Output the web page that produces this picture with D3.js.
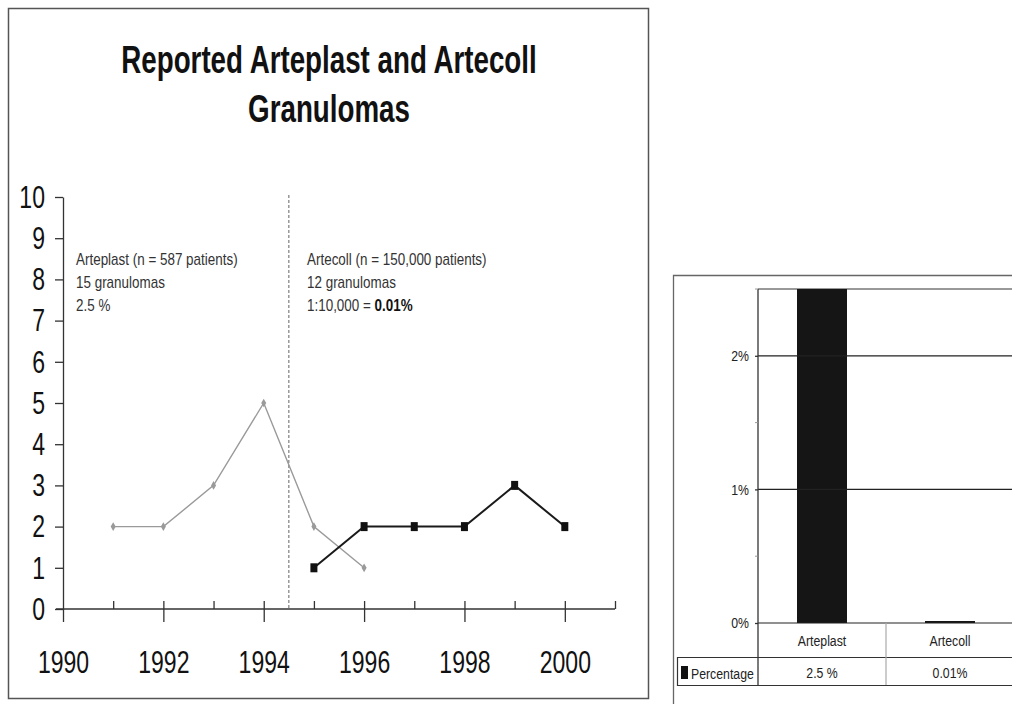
<!DOCTYPE html>
<html><head><meta charset="utf-8">
<script src="https://cdn.jsdelivr.net/npm/d3@7"></script>
<style>
html,body{margin:0;padding:0;background:#fff;}
svg{display:block;}
</style></head>
<body>
<svg id="chart" width="1012" height="704"></svg>
<script>
// ---- data ----
const titleLines = ["Reported Arteplast and Artecoll", "Granulomas"];
const yearTicks = [1990, 1992, 1994, 1996, 1998, 2000];
const minorYears = [1991, 1992, 1993, 1994, 1995, 1996, 1997, 1998, 1999, 2000, 2001];
const countTicks = [0,1,2,3,4,5,6,7,8,9,10];
const arteplastYears = [1991, 1992, 1993, 1994, 1995, 1996];
const arteplastCounts = [2, 2, 3, 5, 2, 1];
const artecollYears = [1995, 1996, 1997, 1998, 1999, 2000];
const artecollCounts = [1, 2, 2, 2, 3, 2];
const switchYear = 1994.5;
const arteplastNotes = ["Arteplast (n = 587 patients)", "15 granulomas", "2.5 %"];
const artecollNotes = ["Artecoll (n = 150,000 patients)", "12 granulomas", "1:10,000 = "];
const artecollBold = "0.01%";
const barCategories = ["Arteplast", "Artecoll"];
const barValues = [2.5, 0.01];
const barValueLabels = ["2.5 %", "0.01%"];
const pctTicks = [0, 1, 2];
const pctMinor = [0.5, 1.5, 2.5];
const seriesName = "Percentage";

const svg = d3.select("#chart");
const FONT = '"Liberation Sans Narrow","Arial Narrow","Liberation Sans",Arial,sans-serif';

// horizontally condense text (narrow typeface look)
function condense(sel, k) {
  sel.each(function () {
    const t = d3.select(this);
    const tx = +t.attr("x") || 0, ty = +t.attr("y") || 0;
    t.attr("x", 0).attr("y", 0).attr("transform", `translate(${tx},${ty}) scale(${k},1)`);
  });
}

// ---------- Left panel ----------
svg.append("rect").attr("x", 8.5).attr("y", 8.5).attr("width", 640).attr("height", 690)
  .attr("fill", "none").attr("stroke", "#555").attr("stroke-width", 1.5);

const title = svg.append("g").selectAll("text").data(titleLines).join("text")
  .attr("x", 329).attr("y", (d, i) => 73 + i * 49)
  .attr("text-anchor", "middle").attr("font-family", FONT)
  .attr("font-weight", "bold").attr("font-size", 38).attr("fill", "#111")
  .text(d => d);
condense(title, 0.73);

const x = d3.scaleLinear().domain([1990, 2001]).range([63, 615]);
const y = d3.scaleLinear().domain([0, 10]).range([609, 197]);

// y axis
const gy = svg.append("g").attr("transform", "translate(63,0)")
  .call(d3.axisLeft(y).tickValues(countTicks).tickSize(8).tickSizeOuter(0).tickPadding(10).tickFormat(d3.format("d")));
gy.selectAll("path,line").attr("stroke", "#333").attr("stroke-width", 1.3);
gy.selectAll("text").attr("font-family", FONT).attr("font-size", 32).attr("fill", "#111");
condense(gy.selectAll("text"), 0.72);

// x axis: minor ticks upward
const gxm = svg.append("g").attr("transform", "translate(0,609)")
  .call(d3.axisTop(x).tickValues(minorYears).tickSize(8).tickSizeOuter(0).tickFormat(""));
gxm.select(".domain").attr("d", `M${x(1990) - 7},0H${x(2001)}`);
gxm.selectAll("path,line").attr("stroke", "#333").attr("stroke-width", 1.3);

// x axis: major ticks downward with labels
const gx = svg.append("g").attr("transform", "translate(0,609)")
  .call(d3.axisBottom(x).tickValues(yearTicks).tickSize(13).tickPadding(28).tickFormat(d3.format("d")));
gx.select(".domain").remove();
gx.selectAll("line").attr("stroke", "#333").attr("stroke-width", 1.3);
gx.selectAll("text").attr("font-family", FONT).attr("font-size", 32).attr("fill", "#111");
condense(gx.selectAll("text"), 0.72);

// dashed divider
svg.append("line").attr("x1", x(switchYear)).attr("x2", x(switchYear))
  .attr("y1", y(10) - 2).attr("y2", y(0))
  .attr("stroke", "#888").attr("stroke-width", 1.3).attr("stroke-dasharray", "3,2");

// annotations
const ap = svg.append("g").selectAll("text").data(arteplastNotes).join("text")
  .attr("x", 76).attr("y", (d, i) => 265 + i * 23)
  .attr("font-family", FONT).attr("font-size", 16).attr("fill", "#333").text(d => d);
condense(ap, 0.84);
const an = svg.append("g").selectAll("text").data(artecollNotes).join("text")
  .attr("x", 307).attr("y", (d, i) => 265 + i * 23)
  .attr("font-family", FONT).attr("font-size", 16).attr("fill", "#333").text(d => d);
an.filter((d, i) => i === 2).append("tspan").attr("font-weight", "bold").attr("fill", "#111").text(artecollBold);
condense(an, 0.84);

// lines
const line = d3.line().x(d => x(d[0])).y(d => y(d[1]));
const apData = arteplastYears.map((yr, i) => [yr, arteplastCounts[i]]);
const acData = artecollYears.map((yr, i) => [yr, artecollCounts[i]]);

svg.append("path").datum(apData).attr("d", line).attr("fill", "none")
  .attr("stroke", "#9a9a9a").attr("stroke-width", 1.4);
svg.append("g").selectAll("path").data(apData).join("path")
  .attr("d", d3.symbol(d3.symbolDiamond, 22))
  .attr("transform", d => `translate(${x(d[0])},${y(d[1])})`)
  .attr("fill", "#9a9a9a");

svg.append("path").datum(acData).attr("d", line).attr("fill", "none")
  .attr("stroke", "#1a1a1a").attr("stroke-width", 2);
svg.append("g").selectAll("rect").data(acData).join("rect")
  .attr("x", d => x(d[0]) - 3.5).attr("y", d => y(d[1]) - 4.5)
  .attr("width", 7).attr("height", 9).attr("fill", "#111");

// ---------- Right panel ----------
svg.append("path").attr("d", "M673.5,704V275.5H1012")
  .attr("fill", "none").attr("stroke", "#666").attr("stroke-width", 1.3);

const yb = d3.scaleLinear().domain([0, 2.5]).range([623, 289]);
const xb = d3.scaleBand().domain(barCategories).range([758, 1014]).padding(0);
const barW = 50;

svg.append("line").attr("x1", 758).attr("x2", 1012).attr("y1", yb(2.5)).attr("y2", yb(2.5))
  .attr("stroke", "#777").attr("stroke-width", 1.3);

svg.append("g").selectAll("rect").data(barValues).join("rect")
  .attr("x", (d, i) => xb(barCategories[i]) + (xb.bandwidth() - barW) / 2)
  .attr("width", barW)
  .attr("y", d => Math.min(yb(d), yb(0) - 2))
  .attr("height", d => Math.max(yb(0) - yb(d), 2))
  .attr("fill", "#151515");

svg.append("g").selectAll("line").data(pctTicks).join("line")
  .attr("x1", 758).attr("x2", 1012).attr("y1", d => yb(d)).attr("y2", d => yb(d))
  .attr("stroke", "#222").attr("stroke-width", 1.2);

const gyb = svg.append("g").attr("transform", "translate(758,0)")
  .call(d3.axisLeft(yb).tickValues(pctTicks).tickSize(3).tickSizeOuter(0).tickPadding(6).tickFormat(d => d + "%"));
gyb.select(".domain").attr("d", `M0,${yb(2.5)}V685`);
gyb.selectAll("path,line").attr("stroke", "#333").attr("stroke-width", 1.3);
gyb.selectAll("text").attr("font-family", FONT).attr("font-size", 15).attr("fill", "#222");
condense(gyb.selectAll("text"), 0.82);
svg.append("g").selectAll("line").data(pctMinor).join("line")
  .attr("x1", 755).attr("x2", 758).attr("y1", d => yb(d)).attr("y2", d => yb(d))
  .attr("stroke", "#999");

const tbl = svg.append("g");
tbl.append("path").attr("d", "M677.5,657.5H1012M677.5,685.5H1012M677.5,657V686")
  .attr("fill", "none").attr("stroke", "#333").attr("stroke-width", 1.2);
tbl.append("line").attr("x1", 886).attr("x2", 886).attr("y1", 623).attr("y2", 685)
  .attr("stroke", "#aaa").attr("stroke-width", 1.2);
const cats = tbl.selectAll("text.cat").data(barCategories).join("text").attr("class", "cat")
  .attr("x", d => xb(d) + xb.bandwidth() / 2).attr("y", 646)
  .attr("text-anchor", "middle").attr("font-family", FONT).attr("font-size", 15).attr("fill", "#222")
  .text(d => d);
condense(cats, 0.82);
const vals = tbl.selectAll("text.val").data(barValueLabels).join("text").attr("class", "val")
  .attr("x", (d, i) => xb(barCategories[i]) + xb.bandwidth() / 2).attr("y", 678)
  .attr("text-anchor", "middle").attr("font-family", FONT).attr("font-size", 15).attr("fill", "#222")
  .text(d => d);
condense(vals, 0.82);
tbl.append("rect").attr("x", 681).attr("y", 666).attr("width", 7).attr("height", 13).attr("fill", "#111");
const lg = tbl.append("text").attr("x", 691).attr("y", 679).attr("font-family", FONT).attr("font-size", 15)
  .attr("fill", "#222").text(seriesName);
condense(lg, 0.82);
</script>
</body></html>
